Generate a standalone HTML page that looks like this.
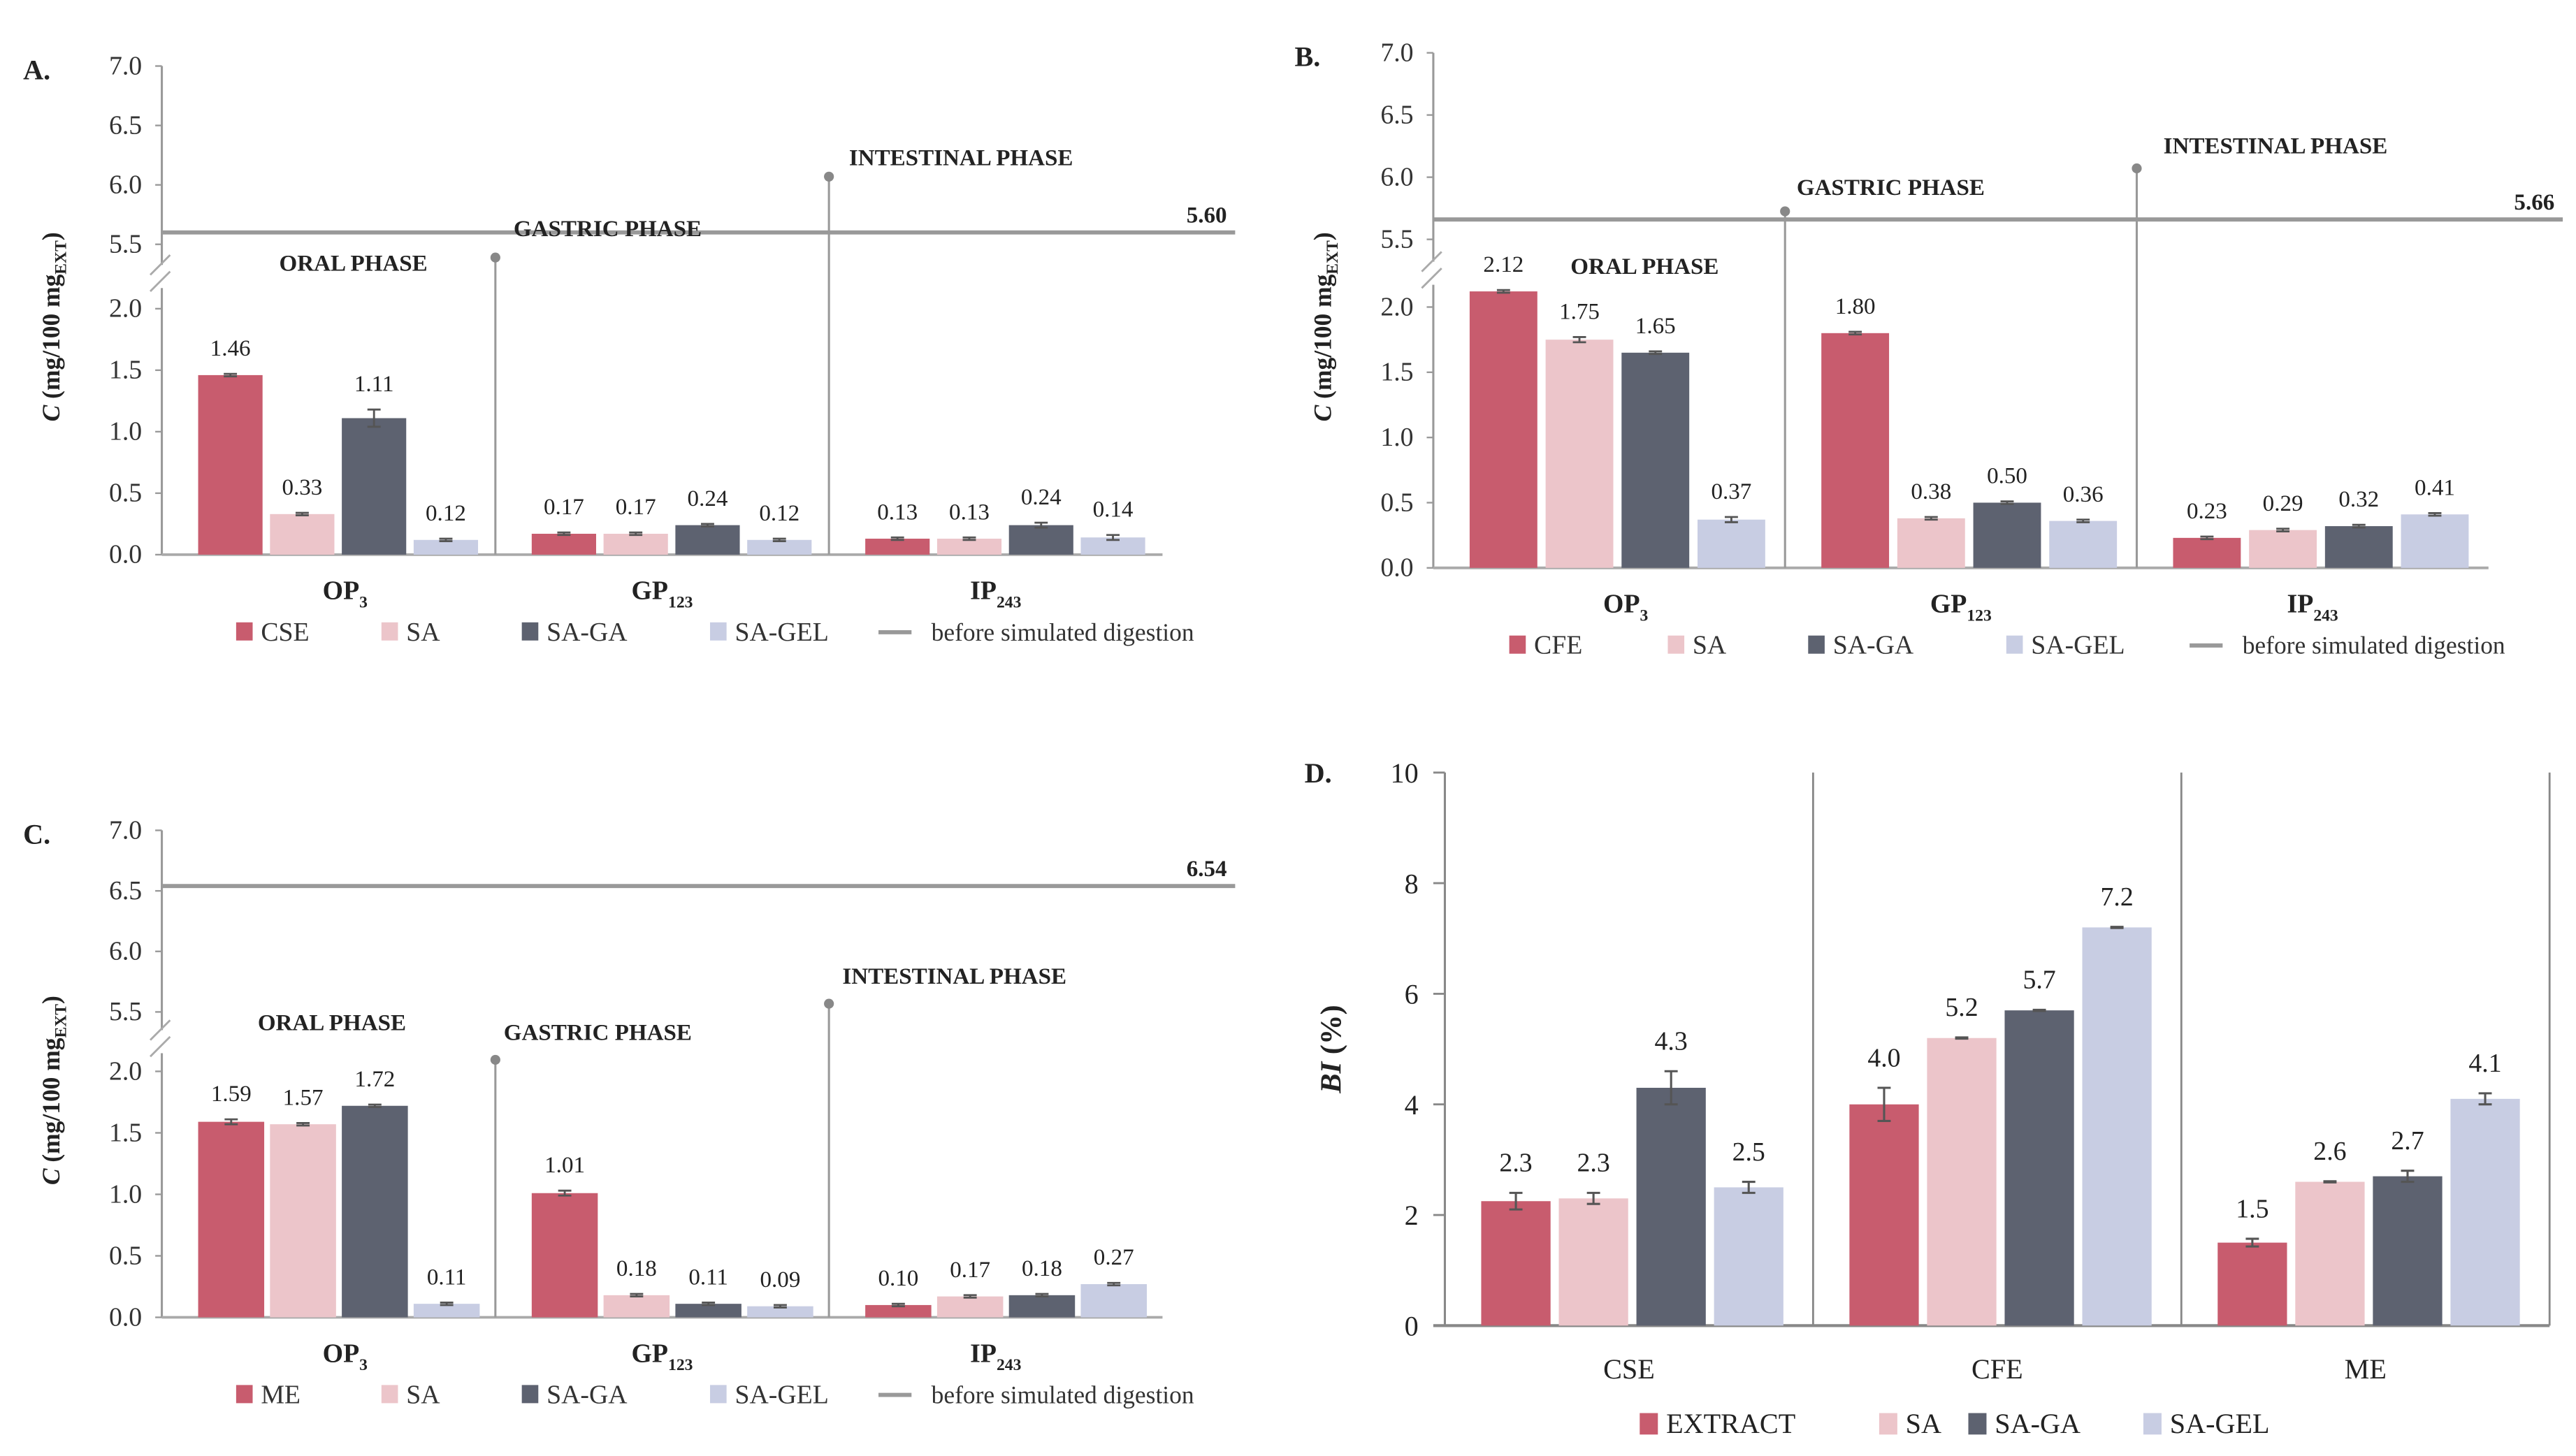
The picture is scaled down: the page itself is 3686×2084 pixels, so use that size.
<!DOCTYPE html>
<html><head><meta charset="utf-8"><style>
html,body{margin:0;padding:0;background:#fff}
svg{display:block;font-family:"Liberation Serif",serif}
</style></head><body>
<svg id="fig" width="3686" height="2084" viewBox="0 0 1560 882" xmlns="http://www.w3.org/2000/svg"></svg>
<script>
// ---------- data ----------
const phaseCats = ["OP","GP","IP"];
const phaseSubs = ["3","123","243"];
const seriesNamesA = ["CSE","SA","SA-GA","SA-GEL"];
const seriesNamesB = ["CFE","SA","SA-GA","SA-GEL"];
const seriesNamesC = ["ME","SA","SA-GA","SA-GEL"];
const valuesA = [[1.46,0.17,0.13],[0.33,0.17,0.13],[1.11,0.24,0.24],[0.12,0.12,0.14]];
const errorsA = [[0.01,0.01,0.01],[0.01,0.01,0.01],[0.07,0.01,0.02],[0.01,0.01,0.02]];
const refA = 5.60;
const valuesB = [[2.12,1.80,0.23],[1.75,0.38,0.29],[1.65,0.50,0.32],[0.37,0.36,0.41]];
const errorsB = [[0.01,0.01,0.01],[0.02,0.01,0.01],[0.01,0.01,0.01],[0.02,0.01,0.01]];
const refB = 5.66;
const valuesC = [[1.59,1.01,0.10],[1.57,0.18,0.17],[1.72,0.11,0.18],[0.11,0.09,0.27]];
const errorsC = [[0.02,0.02,0.01],[0.01,0.01,0.01],[0.01,0.01,0.01],[0.01,0.01,0.01]];
const refC = 6.54;
const lowTicks = [0.0,0.5,1.0,1.5,2.0];
const upTicks = [5.5,6.0,6.5,7.0];
const dCats = ["CSE","CFE","ME"];
const dSeries = ["EXTRACT","SA","SA-GA","SA-GEL"];
const dValues = [[2.25,4.0,1.5],[2.3,5.2,2.6],[4.3,5.7,2.7],[2.5,7.2,4.1]];
const dLabels = [["2.3","4.0","1.5"],["2.3","5.2","2.6"],["4.3","5.7","2.7"],["2.5","7.2","4.1"]];
const dErrors = [[0.15,0.3,0.07],[0.1,0.01,0.01],[0.3,0.01,0.1],[0.1,0.01,0.1]];
const dTicks = [0,2,4,6,8,10];
const colors = ["#c85c6e","#ecc5ca","#5d6270","#c8cde3"];

const NS="http://www.w3.org/2000/svg";
const svg=document.getElementById('fig');
function mk(tag,attrs,parent,text){const e=document.createElementNS(NS,tag);for(const k in attrs)e.setAttribute(k,attrs[k]);if(text!==undefined)e.textContent=text;(parent||svg).appendChild(e);return e;}

function brokenPanel(p){
  const g=mk('g',{});
  
  
  const lowK=(p.y0-p.y2)/2, upK=(p.y55-p.y70)/1.5;
  const Y=v=> v<=2.5 ? p.y0-v*lowK : p.y55-(v-5.5)*upK;
  const ax=mk('line',{x1:p.ax,y1:p.y70,x2:p.ax,y2:p.y0,stroke:'#999','stroke-width':1.3},g);
  
  const mid=(p.y55+p.y2)/2;
  mk('rect',{x:p.ax-8,y:mid-7,width:16,height:14,fill:'#fff'},g);
  mk('line',{x1:p.ax-7,y1:mid-1,x2:p.ax+5,y2:mid-13,stroke:'#aaa','stroke-width':1.2},g);
  mk('line',{x1:p.ax-7,y1:mid+9,x2:p.ax+5,y2:mid-3,stroke:'#aaa','stroke-width':1.2},g);
  lowTicks.concat(upTicks).forEach(t=>{
    mk('line',{x1:p.ax-4,y1:Y(t),x2:p.ax,y2:Y(t),stroke:'#999','stroke-width':1},g);
    const tl=mk('text',{x:p.ax-12,y:Y(t)+5,'text-anchor':'end','font-size':16,fill:'#333'},g,t.toFixed(1));
    
  });
  const yt=mk('text',{transform:`translate(${p.ax-62},${(p.y70+p.y0)/2+10}) rotate(-90)`,'text-anchor':'middle','font-size':15,'font-weight':'bold',fill:'#222'},g);
  
  mk('tspan',{'font-style':'italic'},yt,'C');mk('tspan',{},yt,' (mg/100 mg');
  mk('tspan',{'font-size':10,dy:4},yt,'EXT');mk('tspan',{dy:-4},yt,')');
  const pl=mk('text',{x:p.ax-84,y:p.y70+8,'font-size':17,'font-weight':'bold',fill:'#222'},g,p.letter);
  
  const rl=mk('line',{x1:p.ax,y1:Y(p.ref),x2:p.refEnd,y2:Y(p.ref),stroke:'#999','stroke-width':2.5},g);
  
  const rt=mk('text',{x:p.refEnd-5,y:Y(p.ref)-6,'text-anchor':'end','font-size':14,'font-weight':'bold',fill:'#222'},g,p.ref.toFixed(2));
  
  const xa=mk('line',{x1:p.ax,y1:p.y0,x2:p.ax+3*p.gw,y2:p.y0,stroke:'#aaa','stroke-width':1.6},g);
  
  [1,2].forEach((i,k)=>{
    const x=p.ax+i*p.gw;
    const s=mk('line',{x1:x,y1:p.sepTop[k],x2:x,y2:p.y0,stroke:'#999','stroke-width':1.3},g);
    
    mk('circle',{cx:x,cy:p.sepTop[k],r:3,fill:'#888'},g);
  });
  p.phases.forEach(ph=>{
    const t=mk('text',{x:ph[1],y:ph[2],'text-anchor':'middle','font-size':14,'font-weight':'bold',fill:'#222'},g,ph[0]);
    
  });
  p.values.forEach((ser,s)=>{
    ser.forEach((v,c)=>{
      const x=p.ax+c*p.gw+p.off+s*p.step;
      const b=mk('rect',{x:x,y:Y(v),width:p.bw,height:p.y0-Y(v),fill:colors[s]},g);
      
      
      const e=p.errors[s][c], cx=x+p.bw/2;
      mk('line',{x1:cx,y1:Y(v+e),x2:cx,y2:Y(Math.max(0,v-e)),stroke:'#555','stroke-width':1.2},g);
      mk('line',{x1:cx-4,y1:Y(v+e),x2:cx+4,y2:Y(v+e),stroke:'#555','stroke-width':1.2},g);
      mk('line',{x1:cx-4,y1:Y(Math.max(0,v-e)),x2:cx+4,y2:Y(Math.max(0,v-e)),stroke:'#555','stroke-width':1.2},g);
      const vl=mk('text',{x:cx,y:Y(v+e)-11,'text-anchor':'middle','font-size':14,fill:'#222'},g,v.toFixed(2));
      
    });
  });
  phaseCats.forEach((c,i)=>{
    const t=mk('text',{x:p.ax+i*p.gw+p.gw/2+(i==0?10:0),y:p.y0+27,'text-anchor':'middle','font-size':16,'font-weight':'bold',fill:'#222'},g);
    
    mk('tspan',{},t,c);mk('tspan',{'font-size':10,dy:5},t,phaseSubs[i]);
  });
  const ly=p.y0+52;
  p.series.forEach((n,i)=>{
    const lg=mk('g',{},g);
    
    mk('rect',{x:p.leg[i],y:ly-11,width:10,height:11,fill:colors[i]},lg);
    mk('text',{x:p.leg[i]+15,y:ly,'font-size':16,fill:'#333'},lg,n);
  });
  const ll=mk('g',{},g);
  
  mk('line',{x1:p.leg[4],y1:ly-5,x2:p.leg[4]+20,y2:ly-5,stroke:'#999','stroke-width':2.5},ll);
  mk('text',{x:p.leg[4]+32,y:ly,'font-size':15,fill:'#333'},ll,'before simulated digestion');
}

brokenPanel({name:'panel-a',letter:'A.',ax:98,y0:336,y2:187,y55:148,y70:40,gw:202,off:22,step:43.5,bw:39,
  values:valuesA,errors:errorsA,series:seriesNamesA,ref:refA,refEnd:748,sepTop:[156,107],
  phases:[['ORAL PHASE',214,164],['GASTRIC PHASE',368,143],['INTESTINAL PHASE',582,100]],
  leg:[143,231,316,430,532]});
brokenPanel({name:'panel-b',letter:'B.',ax:868,y0:344,y2:186,y55:145,y70:32,gw:213,off:22,step:46,bw:41,
  values:valuesB,errors:errorsB,series:seriesNamesB,ref:refB,refEnd:1552,sepTop:[128,102],
  phases:[['ORAL PHASE',996,166],['GASTRIC PHASE',1145,118],['INTESTINAL PHASE',1378,93]],
  leg:[914,1010,1095,1215,1326]});
brokenPanel({name:'panel-c',letter:'C.',ax:98,y0:798,y2:649,y55:613,y70:503,gw:202,off:22,step:43.5,bw:40,
  values:valuesC,errors:errorsC,series:seriesNamesC,ref:refC,refEnd:748,sepTop:[642,608],
  phases:[['ORAL PHASE',201,624],['GASTRIC PHASE',362,630],['INTESTINAL PHASE',578,596]],
  leg:[143,231,316,430,532]});

// ---------- panel D ----------
(function(){
  const g=mk('g',{});
  
  const ax=875,y0=803,yTop=468,gw=223,off=22,step=47,bw=42;
  const Y=v=>y0-(v/10)*(y0-yTop);
  const ya=mk('line',{x1:ax,y1:yTop,x2:ax,y2:y0,stroke:'#888','stroke-width':1.3},g);
  
  dTicks.forEach(t=>{
    mk('line',{x1:ax-7,y1:Y(t),x2:ax,y2:Y(t),stroke:'#888','stroke-width':1.2},g);
    const tl=mk('text',{x:ax-16,y:Y(t)+6,'text-anchor':'end','font-size':17,fill:'#222'},g,String(t));
    
  });
  const xa=mk('line',{x1:ax-7,y1:y0,x2:ax+3*gw,y2:y0,stroke:'#888','stroke-width':1.8},g);
  
  [1,2,3].forEach(i=>{
    const s=mk('line',{x1:ax+i*gw,y1:yTop,x2:ax+i*gw,y2:y0,stroke:'#888','stroke-width':1.2},g);
    
  });
  const yt=mk('text',{transform:`translate(812,${(yTop+y0)/2}) rotate(-90)`,'text-anchor':'middle','font-size':18,'font-weight':'bold',fill:'#222'},g);
  
  mk('tspan',{'font-style':'italic'},yt,'BI');mk('tspan',{},yt,' (%)');
  const pl=mk('text',{x:790,y:474,'font-size':17,'font-weight':'bold',fill:'#222'},g,'D.');
  
  dValues.forEach((ser,s)=>{
    ser.forEach((v,c)=>{
      const x=ax+c*gw+off+s*step;
      const b=mk('rect',{x:x,y:Y(v),width:bw,height:y0-Y(v),fill:colors[s]},g);
      
      
      const e=dErrors[s][c],cx=x+bw/2;
      mk('line',{x1:cx,y1:Y(v+e),x2:cx,y2:Y(v-e),stroke:'#555','stroke-width':1.3},g);
      mk('line',{x1:cx-4,y1:Y(v+e),x2:cx+4,y2:Y(v+e),stroke:'#555','stroke-width':1.3},g);
      mk('line',{x1:cx-4,y1:Y(v-e),x2:cx+4,y2:Y(v-e),stroke:'#555','stroke-width':1.3},g);
      const vl=mk('text',{x:cx,y:Y(v+e)-13,'text-anchor':'middle','font-size':16,fill:'#222'},g,dLabels[s][c]);
      
    });
  });
  dCats.forEach((c,i)=>{
    const t=mk('text',{x:ax+i*gw+gw/2,y:835,'text-anchor':'middle','font-size':17,fill:'#222'},g,c);
    
  });
  const lx=[993,1138,1192,1298];
  dSeries.forEach((n,i)=>{
    const lg=mk('g',{},g);
    
    mk('rect',{x:lx[i],y:856,width:11,height:13,fill:colors[i]},lg);
    mk('text',{x:lx[i]+16,y:868,'font-size':17,fill:'#222'},lg,n);
  });
})();
</script>
</body></html>
